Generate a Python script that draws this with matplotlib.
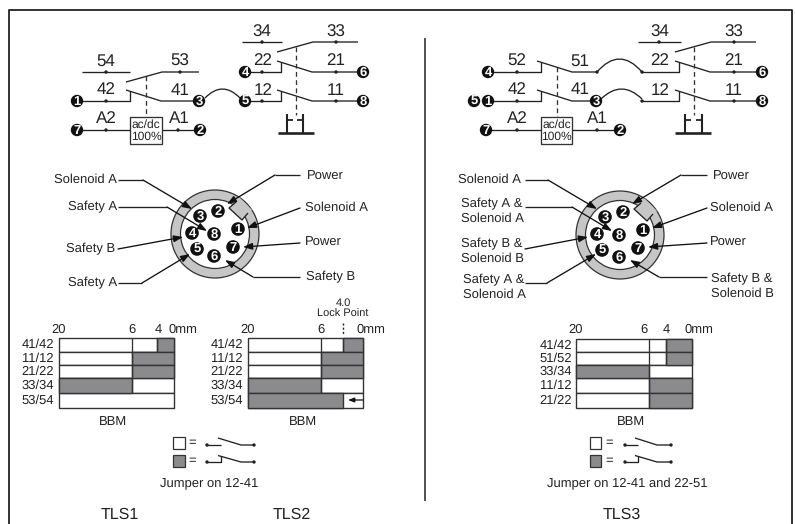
"""
Wiring, connector and travel diagrams for TLS1/TLS2/TLS3 interlock switches.
Drawn in pixel coordinates of the 795x524 sheet.
"""
import matplotlib
matplotlib.use("Agg")
import matplotlib.pyplot as plt
from matplotlib.patches import Circle, PathPatch, Polygon, Rectangle, Wedge
from matplotlib.path import Path
import numpy as np

plt.rcParams['font.family'] = ['Liberation Sans', 'DejaVu Sans']
plt.rcParams['text.hinting'] = 'no_hinting'
plt.rcParams['text.hinting_factor'] = 1

INK = '#222222'
GREY = '#8b8b8d'
RING = '#c6c6c6'

# travel charts: row label, then the closed (grey) stretch in mm
MM_TICKS = [20, 6, 4, 0]
TLS1_ROWS = ['41/42', '11/12', '21/22', '33/34', '53/54']
TLS1_GREY = [(4, 0), (6, 0), (6, 0), (20, 6), None]
TLS1_MARKS = [4, None, None, None, None]
TLS2_ROWS = ['41/42', '11/12', '21/22', '33/34', '53/54']
TLS2_GREY = [(4, 0), (6, 0), (6, 0), (20, 6), (20, 4)]
TLS2_MARKS = [4, None, None, None, None]
TLS3_ROWS = ['41/42', '51/52', '33/34', '11/12', '21/22']
TLS3_GREY = [(4, 0), (4, 0), (20, 6), (6, 0), (6, 0)]
TLS3_MARKS = [4, 4, None, None, None]

# connector pins, clockwise from the key
PIN_NAMES = ['2', '1', '7', '6', '5', '4', '3', '8']
LEFT_LABELS_1 = ['Solenoid A', 'Safety A', 'Safety B', 'Safety A']
RIGHT_LABELS_1 = ['Power', 'Solenoid A', 'Power', 'Safety B']
LEFT_LABELS_3 = ['Solenoid A', 'Safety A &\nSolenoid A', 'Safety B &\nSolenoid B', 'Safety A &\nSolenoid A']
RIGHT_LABELS_3 = ['Power', 'Solenoid A', 'Power', 'Safety B &\nSolenoid B']

fig = plt.figure(figsize=(7.95, 5.24), dpi=100)
ax = fig.add_axes([0, 0, 1, 1])
ax.set_xlim(0, 795)
ax.set_ylim(524, 0)
ax.axis('off')


def line(xs, ys, lw=0.95, color=INK, **kw):
  ax.plot(xs, ys, color=color, lw=lw, solid_capstyle='butt', **kw)


def dot(x, y):
  ax.add_patch(Circle((x, y), 1.7, fc=INK, ec='none', zorder=4))


def pin(x, y, name, r=6.8):
  ax.add_patch(Circle((x, y), r, fc='#111111', ec='none', zorder=5))
  ax.text(x, y + 0.3, name, color='white', fontsize=9.5, fontweight='bold', ha='center', va='center', zorder=6)


def label(x, y, s, size=12.5, ha='center', va='center'):
  ax.text(x, y, s, color=INK, fontsize=size, ha=ha, va=va, linespacing=1.3)


def nc_contact(x0, y, x_hinge, x_end, x_dot_l, x_dot_r):
  # normally closed contact, arm lifts off the left stub
  line([x0, x_hinge + 4, x_hinge + 4], [y, y, y - 10])
  line([x_hinge, x_hinge + 35, x_end], [y - 11, y, y])
  if x_dot_l:
    dot(x_dot_l, y)
  if x_dot_r:
    dot(x_dot_r, y)


def no_contact(x0, x1, x_arm, x2, x3, y, x_dot_l, x_dot_r):
  line([x0, x1], [y, y])
  line([x_arm, x_arm + 36, x3], [y + 10, y, y])
  dot(x_dot_l, y)
  dot(x_dot_r, y)


def jumper(x0, x1, y, peak):
  pts = [(x0, y), ((x0 + x1) / 2, 2 * peak - y), (x1, y)]
  ax.add_patch(PathPatch(Path(pts, [Path.MOVETO, Path.CURVE3, Path.CURVE3]), fc='none', ec=INK, lw=0.95))


def coil(x0, x1, y0, y1):
  ax.add_patch(Rectangle((x0, y0), x1 - x0, y1 - y0, fc='white', ec='#333333', lw=0.95, zorder=3))
  ax.text((x0 + x1) / 2, y0 + 7.5, 'ac/dc', color=INK, fontsize=8.6, ha='center', va='center', zorder=4)
  ax.text((x0 + x1) / 2, y0 + 20, '100%', color=INK, fontsize=8.6, ha='center', va='center', zorder=4)


def button(x0, x1, xa, xb, y_top, y_base):
  line([x0, x1], [y_base, y_base], lw=1.9)
  line([xa, xa], [y_top, y_base], lw=1.5)
  line([xb, xb], [y_top, y_base], lw=1.5)
  line([xa, xa + 6], [y_top + 6, y_top + 6], lw=1.3)
  line([xb, xb - 6], [y_top + 6, y_top + 6], lw=1.3)


def dashed(x, y0, y1):
  ax.plot([x, x], [y0, y1], color='#333333', lw=0.95, dashes=(3.6, 2.6))


def connector(cx, cy, names, pins):
  ax.add_patch(Wedge((cx, cy), 44, 0, 360, width=9.5, fc=RING, ec='#333333', lw=0.9))
  key = [(21, -32), (14, -26), (27, -14), (33, -21), (37, -24), (24, -37)]
  ax.add_patch(Polygon([(cx + a, cy + b) for a, b in key], fc=RING, ec='none', zorder=2))
  line([cx + key[0][0], cx + key[1][0], cx + key[2][0], cx + key[3][0]],
       [cy + key[0][1], cy + key[1][1], cy + key[2][1], cy + key[3][1]], zorder=2.5)
  for n, (dx, dy) in zip(names, pins):
    pin(cx + dx, cy + dy, n)


def leader(pts):
  xs = [p[0] for p in pts]
  ys = [p[1] for p in pts]
  line(xs[:-1], ys[:-1])
  ax.annotate('', xy=pts[-1], xytext=pts[-2], zorder=7,
              arrowprops=dict(arrowstyle='-|>,head_length=0.55,head_width=0.2', color='#111111', lw=0.95,
                              shrinkA=0, shrinkB=0, mutation_scale=10))


def travel_chart(x_px, y_px, rows, grey, marks, lab_x):
  # grey and marks are in mm, the piecewise scale puts them on the sheet
  to_x = lambda mm: np.interp(-mm, [-m for m in MM_TICKS], x_px)
  for i, name in enumerate(rows):
    y0, y1 = y_px[i], y_px[i + 1]
    ax.add_patch(Rectangle((x_px[0], y0), x_px[-1] - x_px[0], y1 - y0, fc='white', ec='#333333', lw=1.0, zorder=2))
    if grey[i]:
      a, b = to_x(grey[i][0]), to_x(grey[i][1])
      ax.add_patch(Rectangle((a, y0), b - a, y1 - y0, fc=GREY, ec='#333333', lw=1.0, zorder=3))
    if marks[i] is not None:
      line([to_x(marks[i])] * 2, [y0, y1], color='#333333', zorder=4)
    if name != '53/54':
      line([to_x(6)] * 2, [y0, y1], color='#333333', zorder=4)
    label(lab_x, (y0 + y1) / 2, name, size=9.6, ha='right')


def key_legend(xb0, xb1, x_eq, x0, x1, x2, x3):
  for y0, y1, fc in [(437, 449, 'white'), (455, 467, GREY)]:
    ax.add_patch(Rectangle((xb0, y0), xb1 - xb0, y1 - y0, fc=fc, ec='#333333', lw=0.9))
    label(x_eq, (y0 + y1) / 2, '=', size=9.2)
  line([x0, x1], [445, 445])
  line([x1 - 3, x2, x3], [438, 445, 445])
  dot(x0, 445)
  dot(x3, 445)
  line([x0, x1, x1], [462, 462, 456])
  line([x1 - 3, x2, x3], [455.5, 462, 462])
  dot(x0, 462)
  dot(x3, 462)


# sheet frame
line([9, 9, 792, 792], [524, 9.5, 9.5, 524], lw=1.3)
line([425, 425], [38, 501], lw=1.1)

# ---- TLS1/TLS2 wiring ----
no_contact(82, 130, 126, 162, 199, 72, 106, 180)
nc_contact(77, 101, 126, 199, 106, None)
nc_contact(245, 101, 277, 363, 262, 336)
nc_contact(245, 72, 277, 363, 262, 336)
no_contact(242, 282, 277, 312, 358, 42, 262, 336)
jumper(205, 240, 98, 89)
line([77, 130], [130, 130])
line([162, 200], [130, 130])
dot(106, 130)
dot(178, 130)
coil(130, 162, 117, 144)
dashed(146, 76, 117)
dashed(296, 47, 115)
button(278, 314, 287, 303, 114, 133)
for x, y, s in [(77, 101, '1'), (199, 101, '3'), (245, 101, '5'), (363, 101, '8'), (245, 72, '4'), (363, 72, '6'), (77, 130, '7'), (200, 130, '2')]:
  pin(x, y, s, r=6.2)
for x, y, s in [(106, 61, '54'), (180, 61, '53'), (106, 90, '42'), (180, 91, '41'), (262, 32, '34'), (336, 32, '33'),
                (263, 61, '22'), (336, 61, '21'), (263, 91, '12'), (336, 91, '11'), (106, 119, 'A2'), (179, 119, 'A1')]:
  label(x, y, s)

# ---- TLS3 wiring ----
nc_contact(488, 72, 537, 597, 517, None)
nc_contact(488, 101, 537, 596, 517, None)
nc_contact(642, 72, 675, 762, None, 734)
nc_contact(642, 101, 675, 762, None, 734)
no_contact(638, 681, 675, 710, 756, 42, 659, 734)
dot(597, 72)
dot(642, 72)
dot(642, 101)
jumper(597, 642, 72, 59)
jumper(601, 642, 99, 89)
line([486, 541], [130, 130])
line([572, 620], [130, 130])
dot(517, 130)
dot(597, 130)
coil(541, 572, 117, 144)
dashed(557, 67, 117)
dashed(694, 47, 115)
button(675, 711, 685, 702, 114, 133)
for x, y, s in [(488, 72, '4'), (762, 72, '6'), (474, 101, '5'), (488, 101, '1'), (596, 101, '3'), (762, 101, '8'), (486, 130, '7'), (620, 130, '2')]:
  pin(x, y, s, r=6.2)
for x, y, s in [(517, 61, '52'), (580, 61, '51'), (517, 90, '42'), (580, 90, '41'), (660, 32, '34'), (734, 32, '33'),
                (660, 61, '22'), (734, 61, '21'), (660, 91, '12'), (734, 91, '11'), (517, 119, 'A2'), (597, 119, 'A1')]:
  label(x, y, s)

# ---- connectors ----
PIN_OFFSETS = [(3, -23), (23, -5), (18, 13), (-1, 22), (-18, 15), (-23, -1), (-15, -18), (-1, 0)]
connector(215, 234, PIN_NAMES, PIN_OFFSETS)
connector(620, 235, PIN_NAMES, PIN_OFFSETS)

leader([(118, 180), (143, 180), (192, 209)])
leader([(118, 207), (167, 207), (207, 231)])
leader([(118, 249), (183, 237)])
leader([(118, 283), (142, 283), (190, 254)])
leader([(300, 175), (275, 175), (227, 204)])
leader([(300, 208), (247, 228)])
leader([(300, 243), (243, 247)])
leader([(300, 277), (253, 277), (225, 260)])
for y, s in zip([180, 207, 249, 283], LEFT_LABELS_1):
  label(117 if y != 249 else 115, y, s, size=9.3, ha='right')
for x, y, s in zip([307, 305, 305, 306], [177, 208, 243, 277], RIGHT_LABELS_1):
  label(x, y, s, size=9.3, ha='left')

leader([(525, 180), (548, 180), (597, 209)])
leader([(525, 207), (572, 207), (612, 231)])
leader([(525, 249), (588, 237)])
leader([(525, 283), (547, 283), (596, 254)])
leader([(707, 175), (681, 175), (632, 204)])
leader([(707, 208), (652, 228)])
leader([(707, 243), (648, 247)])
leader([(707, 277), (659, 277), (630, 260)])
for x, y, s in zip([458, 461, 461, 463], [180, 211, 251, 287], LEFT_LABELS_3):
  label(x, y, s, size=9.3, ha='left')
for x, y, s in zip([713, 710, 710, 711], [177, 208, 243, 286], RIGHT_LABELS_3):
  label(x, y, s, size=9.3, ha='left')

# ---- travel charts ----
ROW_Y = [338, 352, 365, 378, 393, 408]
ROW_Y3 = [339, 352, 365, 378, 393, 408]
travel_chart([59, 132, 157, 174], ROW_Y, TLS1_ROWS, TLS1_GREY, TLS1_MARKS, 54)
travel_chart([248, 321, 343, 363], ROW_Y, TLS2_ROWS, TLS2_GREY, TLS2_MARKS, 243)
travel_chart([576, 649, 666, 692], ROW_Y3, TLS3_ROWS, TLS3_GREY, TLS3_MARKS, 572)

for x, s in zip([59, 132, 158, 183], ['20', '6', '4', '0mm']):
  label(x, 330, s, size=9.6)
for x, s in zip([248, 321, 371], ['20', '6', '0mm']):
  label(x, 330, s, size=9.6)
for x, s in zip([576, 644, 666, 699], ['20', '6', '4', '0mm']):
  label(x, 330, s, size=9.6)

ax.plot([343, 343], [323, 334], color=INK, lw=1.0, dashes=(1.5, 1.5))
label(343, 303, '4.0', size=7.6)
label(343, 314, 'Lock Point', size=7.6)
ax.annotate('', xy=(348, 400), xytext=(363, 400), zorder=7,
            arrowprops=dict(arrowstyle='-|>,head_length=0.4,head_width=0.15', color='#111111', lw=0.9,
                            shrinkA=0, shrinkB=0, mutation_scale=9))

label(113, 422, 'BBM', size=9.6)
label(303, 422, 'BBM', size=9.6)
label(631, 422, 'BBM', size=9.6)

key_legend(173, 185, 192, 207, 221, 241, 254)
key_legend(590, 601, 609, 625, 638, 657, 671)
label(209, 483, 'Jumper on 12-41', size=9)
label(627, 484, 'Jumper on 12-41 and 22-51', size=9)

label(120, 515, 'TLS1', size=11.5)
label(292, 515, 'TLS2', size=11.5)
label(622, 515, 'TLS3', size=11.5)

fig.savefig('out.png', dpi=100)
